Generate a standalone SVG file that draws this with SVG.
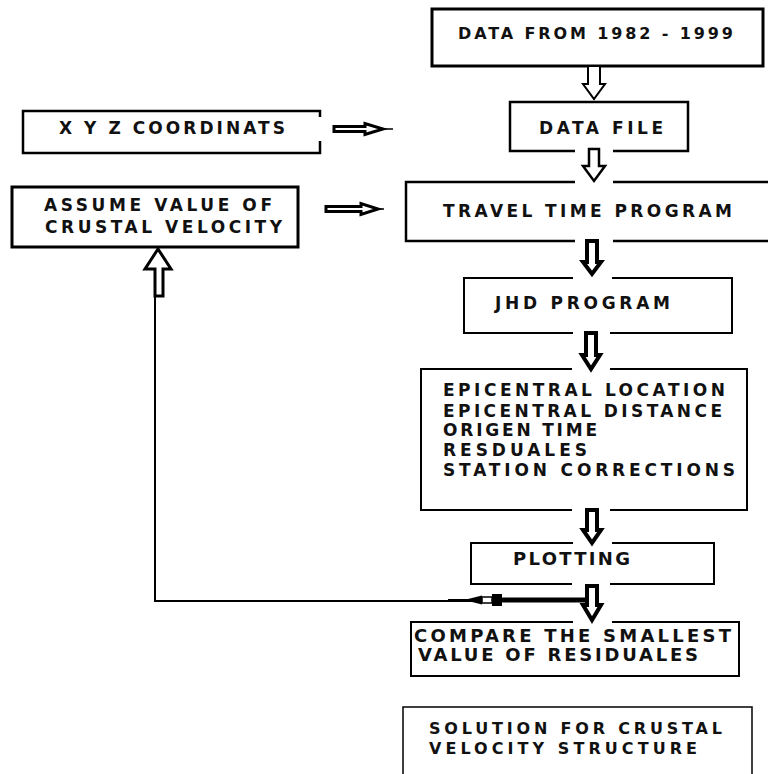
<svg xmlns="http://www.w3.org/2000/svg" width="768" height="774" viewBox="0 0 768 774">
<style>
  .box { fill: none; stroke: #000; stroke-width: 2.5; stroke-linejoin: miter; }
  .t { font-family: "DejaVu Sans", "Liberation Sans", Arial, sans-serif; font-weight: bold; font-size: 17px; fill: #111; }
  .big { font-size: 18px; }
  .sm { font-size: 16px; }
  .ha { fill: #fff; stroke: #000; stroke-width: 2; stroke-linejoin: miter; }
  .ba { fill: #fff; stroke: #000; stroke-width: 4; stroke-linejoin: miter; }
  .ln { fill: none; stroke: #000; }
</style>
<rect x="0" y="0" width="768" height="774" fill="#fff"/>

<g id="node-data-from">
  <rect class="box" x="432" y="9" width="331" height="57" style="stroke-width:3"/>
  <text class="t sm" x="458" y="39" textLength="275" lengthAdjust="spacing">DATA FROM 1982 - 1999</text>
</g>

<g id="node-data-file">
  <path class="box" d="M575,151 H510 V102 H688 V151 H613"/>
  <text class="t" x="539" y="134" textLength="124" lengthAdjust="spacing">DATA FILE</text>
</g>

<g id="node-xyz">
  <path class="box" d="M320,117 V111 H23 V153 H320 V141"/>
  <text class="t" x="59" y="134" textLength="226" lengthAdjust="spacing">X Y Z COORDINATS</text>
</g>

<g id="node-assume">
  <rect class="box" x="12" y="187" width="286" height="60" style="stroke-width:3"/>
  <text class="t" x="44" y="211" textLength="228" lengthAdjust="spacing">ASSUME VALUE OF</text>
  <text class="t" x="45" y="233" textLength="237" lengthAdjust="spacing">CRUSTAL VELOCITY</text>
</g>

<g id="node-travel">
  <path class="box" d="M575,182 H406 V241 H575 M613,241 H772 M772,182 H613"/>
  <text class="t" x="443" y="217" textLength="289" lengthAdjust="spacing">TRAVEL TIME PROGRAM</text>
</g>

<g id="node-jhd">
  <path class="box" d="M573,278 H464 V333 H573 M610,333 H732 V278 H612" style="stroke-width:2"/>
  <text class="t" x="495" y="309" textLength="175" lengthAdjust="spacing">JHD PROGRAM</text>
</g>

<g id="node-epicentral">
  <path class="box" d="M572,369 H421 V510 H572 M610,510 H747 V369 H610" style="stroke-width:2"/>
  <text class="t" x="443" y="396" textLength="282" lengthAdjust="spacing">EPICENTRAL LOCATION</text>
  <text class="t" x="443" y="417" textLength="279" lengthAdjust="spacing">EPICENTRAL DISTANCE</text>
  <text class="t" x="443" y="436" textLength="154" lengthAdjust="spacing">ORIGEN TIME</text>
  <text class="t" x="443" y="456" textLength="144" lengthAdjust="spacing">RESDUALES</text>
  <text class="t" x="443" y="476" textLength="292" lengthAdjust="spacing">STATION  CORRECTIONS</text>
</g>

<g id="node-plotting">
  <path class="box" d="M573,543 H471 V584 H572 M610,584 H714 V543 H612" style="stroke-width:2"/>
  <text class="t big" x="513" y="565" textLength="117" lengthAdjust="spacing">PLOTTING</text>
</g>

<g id="node-compare">
  <path class="box" d="M573,622 H411 V676 H739 V622 H612" style="stroke-width:2"/>
  <text class="t big" x="414" y="642" textLength="317" lengthAdjust="spacing">COMPARE THE SMALLEST</text>
  <text class="t big" x="418" y="661" textLength="280" lengthAdjust="spacing">VALUE OF RESIDUALES</text>
</g>

<g id="node-solution">
  <path class="box" d="M403,780 V707 H752 V780" style="stroke-width:1.5"/>
  <text class="t sm" x="429" y="734" textLength="293" lengthAdjust="spacing">SOLUTION FOR CRUSTAL</text>
  <text class="t sm" x="429" y="754" textLength="268" lengthAdjust="spacing">VELOCITY STRUCTURE</text>
</g>

<g id="connectors">
  <path class="ha" d="M588,66 H600 V84 H605 L594,99 L583,84 H588 Z"/>
  <path class="ha" style="stroke-width:2.5" d="M589,149 H599 V166 H605 L594,181 L583,166 H589 Z"/>
  <path class="ba" d="M587,241 H597 V262 H601 L592,274 L583,262 H587 Z"/>
  <path class="ba" d="M586,333 H596 V355 H600 L591,369 L582,355 H586 Z"/>
  <path class="ba" d="M587,510 H597 V530 H601 L592,543 L583,530 H587 Z"/>
  <path class="ba" d="M587,586 H597 V605 H601 L592,620 L583,605 H587 Z"/>

  <path class="ha" style="stroke-width:3" d="M334,126.5 H365 V123.5 L383,129 L365,134.5 V131.5 H334 Z"/>
  <line class="ln" x1="383" y1="129" x2="393" y2="129" stroke-width="1.5"/>
  <path class="ha" style="stroke-width:3" d="M326,206.5 H361 V203.5 L378,209 L361,214.5 V211.5 H326 Z"/>
  <line class="ln" x1="378" y1="209" x2="384" y2="209" stroke-width="1.5"/>

  <line class="ln" x1="586" y1="600" x2="502" y2="600" stroke-width="5"/>
  <rect x="492" y="594" width="10" height="12" fill="#000"/>
  <rect x="482" y="597" width="10" height="6" fill="#fff" stroke="#000" stroke-width="1.5"/>
  <path d="M482,595.5 V604.5 L468,601 L468,599 Z" fill="#000"/>
  <line class="ln" x1="472" y1="600.5" x2="448" y2="600.5" stroke-width="3"/>
  <line class="ln" x1="448" y1="601" x2="154" y2="601" stroke-width="2"/>
  <line class="ln" x1="155" y1="602" x2="155" y2="294" stroke-width="2"/>
  <path class="ha" style="stroke-width:3" d="M155,296 V269 H145 L158,249 L171,269 H163 V296 Z"/>
</g>
</svg>
